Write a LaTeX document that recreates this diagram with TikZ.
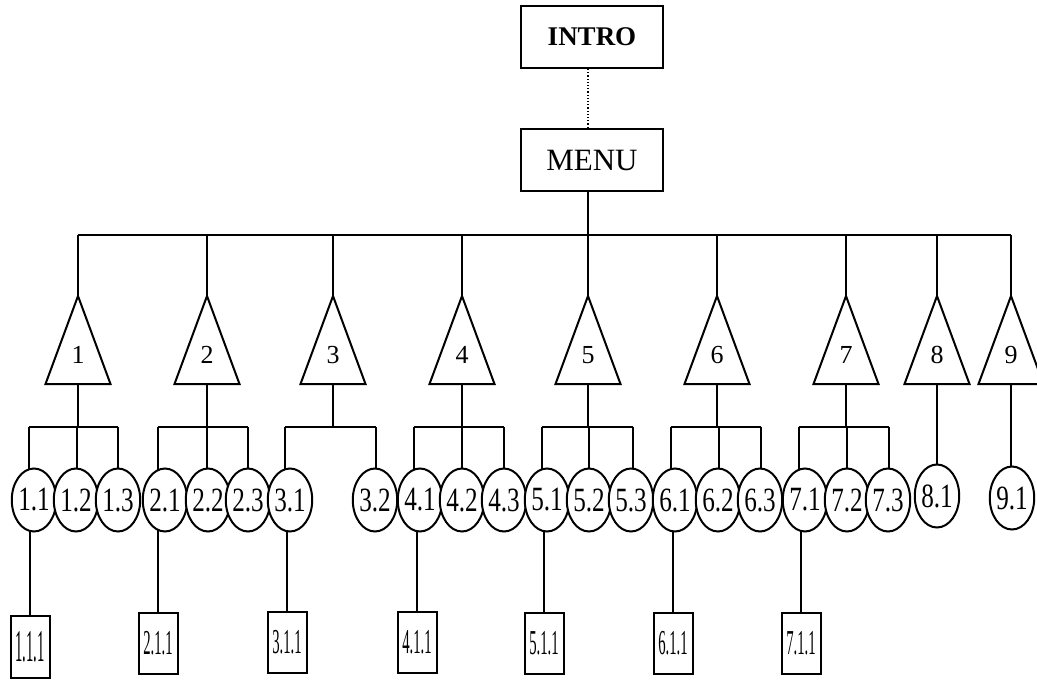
\documentclass[tikz,border=0pt]{standalone}
\usepackage{fontspec}
\setmainfont{Liberation Serif}
\usetikzlibrary{shapes.geometric,backgrounds}
\begin{document}
\begin{tikzpicture}[x=1pt,y=-1pt,
  ln/.style={line width=2pt},
  topbox/.style={draw,ln,minimum width=142pt,minimum height=62pt,inner sep=0pt},
  ellnode/.style={draw,ln,fill=white,ellipse,minimum width=39pt,minimum height=63pt,inner sep=0pt,font=\fontsize{34}{36}\selectfont},
  leafnode/.style={draw,ln,fill=white,minimum width=39pt,minimum height=61pt,inner sep=0pt,font=\fontsize{35}{37}\selectfont},
  trinum/.style={inner sep=0pt,font=\fontsize{26}{28}\selectfont},
  tri/.style={draw,ln,line join=miter}]
\useasboundingbox (0,0) rectangle (1037,681);

% top boxes
\node[topbox,font=\bfseries\fontsize{27}{29}\selectfont] (intro) at (592,37) {INTRO};
\node[topbox,font=\fontsize{31}{33}\selectfont] (menu) at (592,160) {MENU};

% triangles
\foreach \i/\x in {1/78,2/207,3/333,4/462,5/588,6/717,7/846,8/937,9/1011}{
  \coordinate (t\i top) at (\x,296);
  \coordinate (t\i bot) at (\x,384);
  \coordinate (t\i bus) at (\x,235);
  \draw[tri] (t\i top) -- ++(32.5,88) -- ++(-65,0) -- cycle;
  \node[trinum] (t\i) at (\x,355) {\i};
  \draw[ln] (t\i bus) -- (t\i top);
}
\draw[dotted,line width=1.2pt] (intro.south -| t5top) -- (menu.north -| t5top);
\draw[ln] (menu.south -| t5top) -- (t5bus);
\draw[ln] (t1bus) -- (t9bus);

% ellipses
\foreach \g/\c/\bx/\ex in {1/1/29/34,1/2/77/76,1/3/118/118,
  2/1/158/165,2/2/207/208,2/3/248/248,
  3/1/285/290,3/2/376/375,
  4/1/414/420,4/2/462/462,4/3/504/504,
  5/1/542/547,5/2/589/589,5/3/633/631,
  6/1/671/675,6/2/719/718,6/3/761/760,
  7/1/799/805,7/2/847/847,7/3/889/888}{
  \node[ellnode] (e\g\c) at (\ex,500) {\scalebox{0.74}[1]{\g.\c}};
  \coordinate (b\g\c) at (\bx,427);
}
\node[ellnode] (e81) at (937,496) {\scalebox{0.74}[1]{8.1}};
\node[ellnode] (e91) at (1012,498) {\scalebox{0.74}[1]{9.1}};

% leaves
\node[leafnode,minimum height=62pt] (l1) at (30,647) {\scalebox{0.42}[1.3]{1.1.1}};
\node[leafnode] (l2) at (158,643) {\scalebox{0.42}[1]{2.1.1}};
\node[leafnode] (l3) at (287,642) {\scalebox{0.42}[1]{3.1.1}};
\node[leafnode] (l4) at (417,642) {\scalebox{0.42}[1]{4.1.1}};
\node[leafnode] (l5) at (544,643) {\scalebox{0.42}[1]{5.1.1}};
\node[leafnode] (l6) at (673,643) {\scalebox{0.42}[1]{6.1.1}};
\node[leafnode] (l7) at (801,643) {\scalebox{0.42}[1]{7.1.1}};

% connectors
\draw[ln] (b11) -- (b13);
\draw[ln] (b21) -- (b23);
\draw[ln] (b31) -- (b32);
\draw[ln] (b41) -- (b43);
\draw[ln] (b51) -- (b53);
\draw[ln] (b61) -- (b63);
\draw[ln] (b71) -- (b73);
\foreach \g in {1,...,7}{
  \draw[ln] (t\g bot) -- (t\g bot |- b\g1);
}
\begin{scope}[on background layer]
  \foreach \g/\c in {1/1,1/2,1/3,2/1,2/2,2/3,3/1,3/2,4/1,4/2,4/3,5/1,5/2,5/3,6/1,6/2,6/3,7/1,7/2,7/3}{
    \draw[ln] (b\g\c) -- (b\g\c |- e\g\c.center);
  }
  \draw[ln] (t8bot) -- (t8bot |- e81.center);
  \draw[ln] (t9bot) -- (t9bot |- e91.center);
  \foreach \i in {1,...,7}{
    \draw[ln] (l\i.north) -- (l\i.north |- e\i1.center);
  }
\end{scope}
\end{tikzpicture}
\end{document}
